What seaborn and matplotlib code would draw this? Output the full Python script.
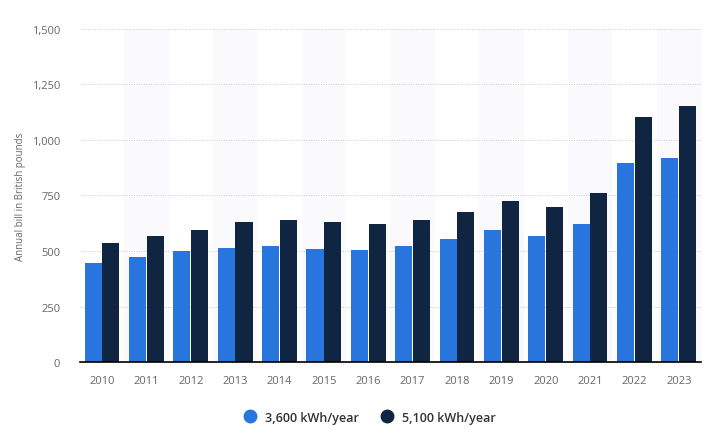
import matplotlib
matplotlib.use("Agg")
import matplotlib.pyplot as plt
import matplotlib.ticker as mticker
import seaborn as sns
import pandas as pd

# ── Data ─────────────────────────────────────────────────────
years = [str(y) for y in range(2010, 2024)]
bill_3600 = [447, 474, 498, 515, 524, 510, 506, 524, 556, 596, 569, 623, 898, 920]
bill_5100 = [537, 569, 596, 632, 641, 632, 623, 641, 677, 726, 700, 763, 1101, 1151]
series_names = ["3,600 kWh/year", "5,100 kWh/year"]
colors = ["#2876dd", "#0f2541"]

df = pd.DataFrame({
    "year": years * 2,
    "bill": bill_3600 + bill_5100,
    "usage": [series_names[0]] * len(years) + [series_names[1]] * len(years),
})

# ── Style ────────────────────────────────────────────────────
sns.set_theme(style="white")
plt.rcParams["font.family"] = ["Open Sans", "DejaVu Sans"]

fig = plt.figure(figsize=(7.19, 4.39), dpi=100)
ax = fig.add_axes([0.111, 0.173, 0.864, 0.759])

# alternating column shading
for i in range(len(years)):
    if i % 2 == 1:
        ax.axvspan(i - 0.5, i + 0.5, color="#fafafc", zorder=0, lw=0)

sns.barplot(data=df, x="year", y="bill", hue="usage", palette=colors,
            width=0.8, gap=0.04, saturation=1, linewidth=0, ax=ax,
            zorder=3, legend=False)

ax.set_xlim(-0.5, len(years) - 0.5)
ax.set_ylim(0, 1500)
ax.set_yticks(range(0, 1501, 250))
ax.yaxis.set_major_formatter(mticker.FuncFormatter(lambda v, p: f"{int(v):,}"))
ax.grid(axis="y", linestyle=(0, (1, 1.5)), color="#cccccc", linewidth=0.7, zorder=1)
ax.set_axisbelow(True)

for s in ["top", "right", "left"]:
    ax.spines[s].set_visible(False)
ax.spines["bottom"].set_color("#000000")
ax.spines["bottom"].set_linewidth(1.2)
ax.spines["bottom"].set_zorder(5)

ax.tick_params(axis="both", length=0, labelsize=8, labelcolor="#666666")
ax.tick_params(axis="x", pad=9)
ax.tick_params(axis="y", pad=14)
ax.set_xlabel("")
ax.set_ylabel("Annual bill in British pounds", fontsize=7, color="#666666", labelpad=4)

# legend
handles = [plt.Line2D([], [], marker="o", linestyle="", markersize=9,
                      markerfacecolor=c, markeredgecolor=c) for c in colors]
fig.legend(handles, series_names, loc="center", bbox_to_anchor=(0.51, 0.047),
           ncol=2, frameon=False, handletextpad=0.2, columnspacing=1.2,
           labelcolor="#333333", prop={"weight": "semibold", "size": 9})

fig.savefig("out.png", dpi=100)
